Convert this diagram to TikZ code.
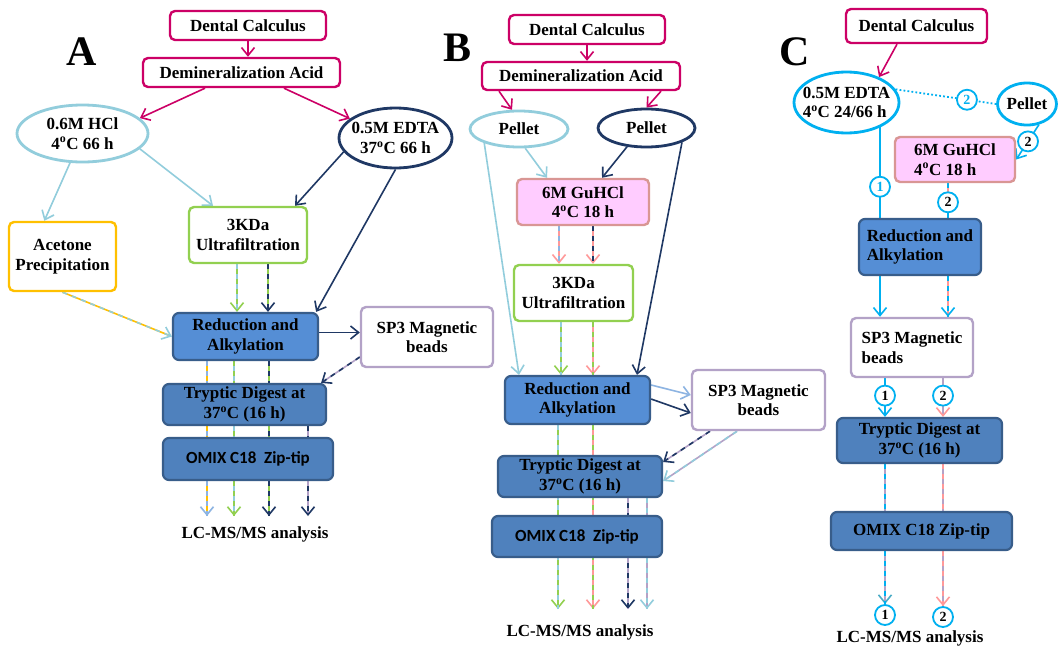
\documentclass[tikz,border=0pt]{standalone}
\usepackage{fontspec}
\setmainfont{Liberation Serif}
\newfontfamily\calibri{Carlito}
\usepackage{tikz}
\usetikzlibrary{shapes.geometric,arrows.meta,backgrounds,calc}
\usepackage{xcolor}
\definecolor{dcMagenta}{RGB}{204,0,102}
\definecolor{dcSky}{RGB}{146,205,220}
\definecolor{dcPale}{RGB}{141,180,226}
\definecolor{dcNavy}{RGB}{31,56,100}
\definecolor{dcGreen}{RGB}{146,208,80}
\definecolor{dcGold}{RGB}{255,192,0}
\definecolor{dcLilac}{RGB}{179,162,199}
\definecolor{dcMid}{RGB}{85,142,213}
\definecolor{dcBlue}{RGB}{79,129,189}
\definecolor{dcEdge}{RGB}{56,93,138}
\definecolor{dcPink}{RGB}{255,204,255}
\definecolor{dcRose}{RGB}{217,150,148}
\definecolor{dcSalmon}{RGB}{255,153,153}
\definecolor{dcCyan}{RGB}{0,176,240}
\definecolor{dcTeal}{RGB}{75,172,198}

\begin{document}
\begin{tikzpicture}[
  x=1pt, y=-1pt,
  every node/.style={font=\fontsize{17}{19.5}\selectfont\bfseries,
              align=center, inner sep=0pt},
  box/.style={rectangle, rounded corners=5pt, draw=#1,
              line width=2.4pt, fill=white},
  blk/.style={rectangle, rounded corners=6pt, draw=dcEdge,
              line width=2.2pt, fill=#1},
  oval/.style={ellipse, draw=#1, line width=2.8pt, fill=white,
              inner xsep=-14pt},
  omix/.style={font=\calibri\fontsize{17}{19.5}\selectfont\bfseries},
  arr/.style={-{Straight Barb[length=8pt,width=13pt,color=#1]},
              line width=1.6pt},
  solo/.style={draw=#1, arr=#1},
  duo/.style 2 args={draw=#1, line width=1.6pt,
              postaction={draw=#2, dash pattern=on 5pt off 5pt, arrows=-}},
  num/.style={circle, solid, draw=dcCyan, line width=1.8pt, fill=white,
              minimum size=20pt, font=\fontsize{14}{14}\selectfont\bfseries},
  panel/.style={font=\fontsize{42}{42}\selectfont\bfseries}
]
  \useasboundingbox (0,0) rectangle (1058,648);

  \node[panel] (labA) at (82,52) {A};
  \node[box=dcMagenta, minimum width=156pt, minimum height=29pt] (dentA) at (248,25.5) {Dental Calculus};
  \node[box=dcMagenta, minimum width=197pt, minimum height=29pt] (demA) at (241.5,72.5) {Demineralization Acid};
  \node[oval=dcSky, minimum width=131pt, minimum height=57pt] (hclA) at (82.5,133.5) {0.6M HCl\\4\textsuperscript{o}C 66 h};
  \node[oval=dcNavy, minimum width=113pt, minimum height=60pt] (edtaA) at (395.5,138) {0.5M EDTA\\37\textsuperscript{o}C 66 h};
  \node[box=dcGold, minimum width=107pt, minimum height=69pt] (aceA) at (62.5,256.5) {Acetone\\Precipitation};
  \node[box=dcGreen, minimum width=118pt, minimum height=56pt] (kdaA) at (248,235) {3KDa\\Ultrafiltration};
  \node[blk=dcMid, minimum width=145pt, minimum height=47pt] (redA) at (245.5,336.5) {Reduction and\\Alkylation};
  \node[box=dcLilac, minimum width=132pt, minimum height=60pt] (spA) at (427,337) {SP3 Magnetic\\beads};
  \node[blk=dcBlue, minimum width=163pt, minimum height=41pt] (tryA) at (244.5,404.5) {Tryptic Digest at\\37\textsuperscript{o}C (16 h)};
  \node[blk=dcBlue, omix, minimum width=170pt, minimum height=42pt] (omA) at (248,459) {OMIX C18\ \ Zip-tip};
  \node (lcA) at (255,534) {LC-MS/MS analysis};
  \coordinate (outA) at (245,516);

  \node[panel] (labB) at (458,48) {B};
  \node[box=dcMagenta, minimum width=156pt, minimum height=29pt] (dentB) at (587,29.5) {Dental Calculus};
  \node[box=dcMagenta, minimum width=198pt, minimum height=28pt] (demB) at (581,76) {Demineralization Acid};
  \node[oval=dcSky, minimum width=98pt, minimum height=36pt] (pel1B) at (519,129) {Pellet};
  \node[oval=dcNavy, minimum width=97pt, minimum height=38pt] (pel2B) at (646.5,128) {Pellet};
  \node[box=dcRose, fill=dcPink, minimum width=132pt, minimum height=46pt] (guB) at (583,202) {6M GuHCl\\4\textsuperscript{o}C 18 h};
  \node[box=dcGreen, minimum width=119pt, minimum height=56pt] (kdaB) at (573.5,293) {3KDa\\Ultrafiltration};
  \node[blk=dcMid, minimum width=145pt, minimum height=48pt] (redB) at (577.5,400) {Reduction and\\Alkylation};
  \node[box=dcLilac, minimum width=133pt, minimum height=60pt] (spB) at (758.5,400) {SP3 Magnetic\\beads};
  \node[blk=dcBlue, minimum width=164pt, minimum height=41pt] (tryB) at (580,476.5) {Tryptic Digest at\\37\textsuperscript{o}C (16 h)};
  \node[blk=dcBlue, omix, minimum width=170pt, minimum height=41pt] (omB) at (577,536.5) {OMIX C18\ \ Zip-tip};
  \node (lcB) at (580,632) {LC-MS/MS analysis};
  \coordinate (outB) at (580,609);

  \node[panel] (labC) at (795,52) {C};
  \node[box=dcMagenta, minimum width=141pt, minimum height=34pt] (dentC) at (916.5,26) {Dental Calculus};
  \node[oval=dcCyan, minimum width=105pt, minimum height=61pt, align=left] (edtaC) at (846.5,102.5) {0.5M EDTA\\4\textsuperscript{o}C 24/66 h};
  \node[oval=dcCyan, minimum width=59pt, minimum height=42pt] (pelC) at (1027,104) {Pellet};
  \node[box=dcRose, fill=dcPink, minimum width=120pt, minimum height=45pt, align=left] (guC) at (955,159.5) {6M GuHCl\\4\textsuperscript{o}C 18 h};
  \node[blk=dcMid, minimum width=122pt, minimum height=56pt, align=left] (redC) at (920,247) {Reduction and\\Alkylation};
  \node[box=dcLilac, minimum width=122pt, minimum height=59pt, align=left] (spC) at (912,347.5) {SP3 Magnetic\\beads};
  \node[blk=dcBlue, minimum width=165pt, minimum height=45pt] (tryC) at (919.5,440.5) {Tryptic Digest at\\37\textsuperscript{o}C (16 h)};
  \node[blk=dcBlue, minimum width=181pt, minimum height=38pt] (omC) at (921.5,531) {OMIX C18 Zip-tip};
  \node[num] (n1C) at (885,615) {1};
  \node[num] (n2C) at (943,617) {2};
  \node (lcC) at (910,638) {LC-MS/MS analysis};
  \coordinate (colC1) at (880,0);
  \coordinate (colC2) at (948,0);
  \coordinate (colC3) at (885,0);
  \coordinate (colC4) at (943,0);

  \begin{scope}[on background layer]
    \fill[white] (0,0) rectangle (1058,648);

    \draw[solo=dcMagenta] (dentA.south) -- (dentA.south |- demA.north);
    \draw[solo=dcMagenta] ([xshift=-36.5]demA.south) -- (hclA.15);
    \draw[solo=dcMagenta] ([xshift=42.5]demA.south) -- (edtaA.157);
    \draw[solo=dcSky] (hclA.-113) -- (aceA.117);
    \draw[solo=dcSky] (hclA.-15) -- ([xshift=-35]kdaA.north);
    \draw[solo=dcNavy] (edtaA.-165) -- ([xshift=47]kdaA.north);
    \draw[solo=dcNavy] (edtaA.south) -- ([xshift=-3]redA.north east);
    \draw[arr=dcSky, duo={dcGold}{dcSky}] (aceA.south) -- (redA.west);
    \foreach \dx/\ca/\cb/\ch in {-11/dcGreen/dcSky/dcGreen, 20/dcGreen/dcNavy/dcNavy}
      \draw[arr=\ch, duo={\ca}{\cb}] ([xshift=\dx]kdaA.south) -- ([xshift=\dx]kdaA.south |- redA.north);
    \foreach \dx/\ca/\cb/\ch in {-38.5/dcGold/dcPale/dcPale, -11.5/dcSky/dcGreen/dcGreen, 23.5/dcGreen/dcNavy/dcNavy}
      \draw[arr=\ch, duo={\ca}{\cb}] ([xshift=\dx]redA.south) -- ([xshift=\dx]redA.south |- outA);
    \draw[arr=dcNavy, duo={dcLilac}{dcNavy}] ([xshift=63.5]tryA.south) -- ([xshift=63.5]tryA.south |- outA);
    \draw[solo=dcNavy] ([yshift=4]redA.east) -- ([yshift=4]redA.east -| spA.west);
    \draw[arr=dcNavy, duo={dcLilac}{dcNavy}] ([yshift=-20]spA.west) -- ([xshift=-6]tryA.north east);

    \draw[solo=dcMagenta] (dentB.south) -- (dentB.south |- demB.north);
    \draw[solo=dcMagenta] ([xshift=-82]demB.south) -- (pel1B.110);
    \draw[solo=dcMagenta] ([xshift=80]demB.south) -- (pel2B.north);
    \draw[solo=dcSky] (pel1B.-72) -- ([xshift=-36]guB.north);
    \draw[solo=dcNavy] (pel2B.-136) -- ([xshift=19]guB.north);
    \draw[solo=dcSky] (pel1B.-158) -- ([xshift=-58.5]redB.north);
    \draw[solo=dcNavy] (pel2B.-22) -- ([xshift=59.5]redB.north);
    \foreach \dx/\ca/\cb/\ch in {-24/dcSalmon/dcPale/dcSalmon, 10/dcSalmon/dcNavy/dcSalmon}
      \draw[arr=\ch, duo={\ca}{\cb}] ([xshift=\dx]guB.south) -- ([xshift=\dx]guB.south |- kdaB.north);
    \foreach \dx/\ca/\cb/\ch in {-12.5/dcGreen/dcSky/dcGreen, 19.5/dcSalmon/dcGreen/dcSalmon}
      \draw[arr=\ch, duo={\ca}{\cb}] ([xshift=\dx]kdaB.south) -- ([xshift=\dx]kdaB.south |- redB.north);
    \draw[solo=dcPale] ([yshift=15]redB.east) -- ([yshift=5]spB.west);
    \draw[solo=dcNavy] ([yshift=1]redB.east) -- ([yshift=-13]spB.west);
    \draw[arr=dcNavy, duo={dcLilac}{dcNavy}] ([xshift=-48.5]spB.south) -- ([yshift=14.5]tryB.east);
    \draw[arr=dcSky, duo={dcLilac}{dcSky}] ([xshift=-21.5]spB.south) -- ([yshift=-4.5]tryB.east);
    \foreach \dx/\ca/\cb/\ch in {-19.5/dcGreen/dcSky/dcGreen, 15.5/dcSalmon/dcGreen/dcSalmon}
      \draw[arr=\ch, duo={\ca}{\cb}] ([xshift=\dx]redB.south) -- ([xshift=\dx]redB.south |- outB);
    \foreach \dx/\ca/\cb/\ch in {48/dcNavy/dcLilac/dcNavy, 67/dcLilac/dcSky/dcSky}
      \draw[arr=\ch, duo={\ca}{\cb}] ([xshift=\dx]tryB.south) -- ([xshift=\dx]tryB.south |- outB);

    \draw[solo=dcMagenta] ([xshift=-19.5]dentC.south) -- (edtaC.38);
    \draw[dcCyan, line width=1.8pt, dash pattern=on 1.8pt off 2.2pt] (edtaC.15) -- node[num, pos=0.71] (m1C) {2} (pelC.west);
    \draw[solo=dcCyan] (pelC.-60) -- node[num, pos=0.48] (m2C) {2} (guC.east);
    \draw[dcCyan, line width=1.6pt] (colC1 |- edtaC.center) -- node[num, pos=0.73] (m3C) {1} (colC1 |- redC.north);
    \draw[duo={dcSalmon}{dcCyan}] (colC2 |- guC.south) -- node[num, pos=0.55] (m4C) {2} (colC2 |- redC.north);
    \draw[solo=dcCyan] (colC1 |- redC.south) -- (colC1 |- spC.north);
    \draw[arr=dcCyan, duo={dcSalmon}{dcCyan}] (colC2 |- redC.south) -- (colC2 |- spC.north);
    \draw[solo=dcCyan] (colC3 |- spC.south) -- node[num, pos=0.45] (m5C) {1} (colC3 |- tryC.north);
    \draw[arr=dcSalmon, draw=dcLilac] (colC4 |- spC.south) -- node[num, pos=0.45] (m6C) {2} (colC4 |- tryC.north);
    \draw[duo={dcLilac}{dcCyan}] (colC3 |- tryC.south) -- (colC3 |- omC.north);
    \draw[duo={dcLilac}{dcSalmon}] (colC4 |- tryC.south) -- (colC4 |- omC.north);
    \draw[arr=dcTeal, duo={dcLilac}{dcCyan}] (colC3 |- omC.south) -- (n1C);
    \draw[arr=dcSalmon, duo={dcLilac}{dcSalmon}] (colC4 |- omC.south) -- (n2C);
  \end{scope}
\end{tikzpicture}
\end{document}
